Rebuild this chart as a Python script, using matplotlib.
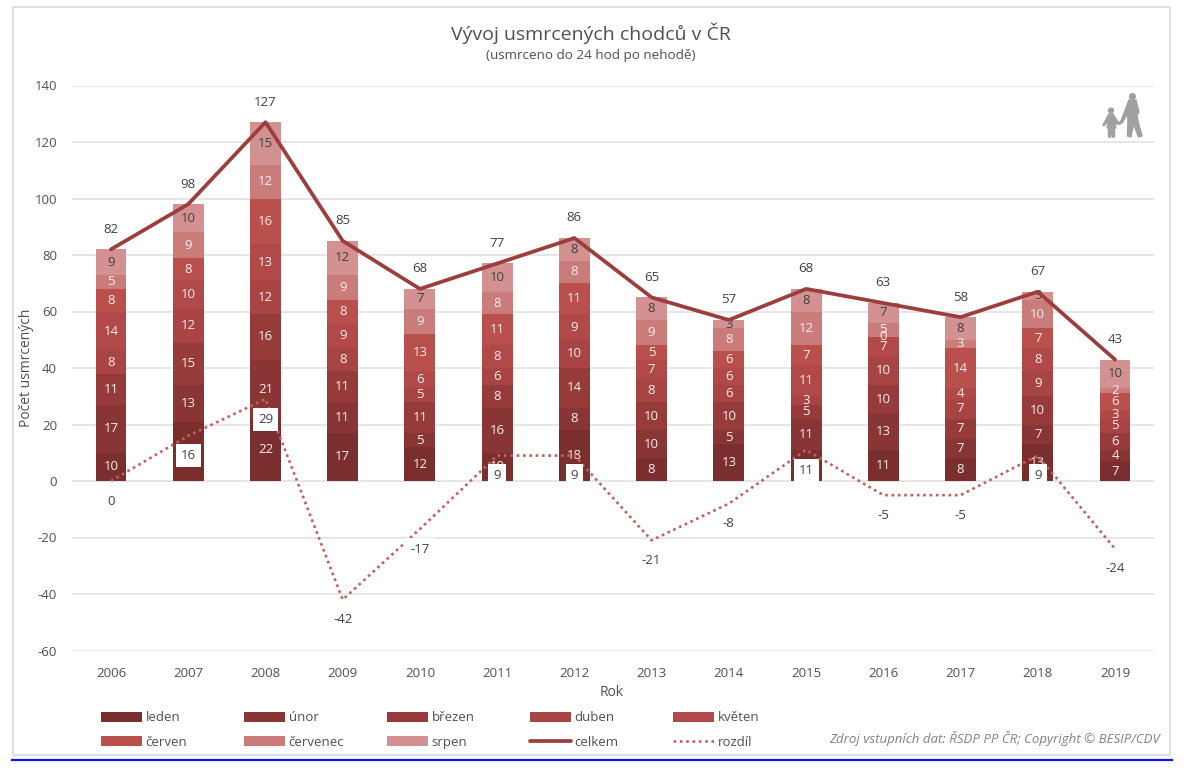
# Vyvoj usmrcenych chodcu v CR - stacked months, total and year on year change
import matplotlib
matplotlib.use('Agg')
import matplotlib.pyplot as plt
from matplotlib.patches import Rectangle, Polygon, Circle
from matplotlib.lines import Line2D

plt.rcParams['font.family'] = ['Open Sans', 'DejaVu Sans']
plt.rcParams['axes.unicode_minus'] = False

years = [2006, 2007, 2008, 2009, 2010, 2011, 2012, 2013, 2014, 2015, 2016, 2017, 2018, 2019]

leden    = [10, 21, 22, 17, 12, 10, 18, 8, 13, 11, 11, 8, 13, 7]
unor     = [17, 13, 21, 11, 5, 16, 8, 10, 5, 11, 13, 7, 7, 4]
brezen   = [11, 15, 16, 11, 11, 8, 14, 10, 10, 5, 10, 7, 10, 6]
duben    = [8, 12, 12, 8, 5, 6, 10, 8, 6, 3, 10, 7, 9, 5]
kveten   = [14, 10, 13, 9, 6, 8, 9, 7, 6, 11, 7, 4, 8, 3]
cerven   = [8, 8, 16, 8, 13, 11, 11, 5, 6, 7, 0, 14, 7, 6]
cervenec = [5, 9, 12, 9, 9, 8, 8, 9, 8, 12, 5, 3, 10, 2]
srpen    = [9, 10, 15, 12, 7, 10, 8, 8, 3, 8, 7, 8, 3, 10]

celkem = [82, 98, 127, 85, 68, 77, 86, 65, 57, 68, 63, 58, 67, 43]
rozdil = [0, 16, 29, -42, -17, 9, 9, -21, -8, 11, -5, -5, 9, -24]

months = [leden, unor, brezen, duben, kveten, cerven, cervenec, srpen]
month_names = ['leden', 'únor', 'březen', 'duben', 'květen', 'červen', 'červenec', 'srpen']
month_colors = ['#7B2E2E', '#8A3535', '#973B3A', '#A84544', '#B04948', '#B9504C', '#CA7C7B', '#D39291']
LINE_COLOR = '#9B3E3D'
DOT_COLOR = '#C45F5E'
TEXT = '#505050'

W, H = 1194, 778
fig = plt.figure(figsize=(W / 100, H / 100), dpi=100)
fig.patch.set_facecolor('white')

# everything is placed in pixels of the reference
def fx(px):
  return px / W
def fy(py):
  return 1 - py / H

# chart frame and the blue line under it, kept behind the axes
fig.add_artist(Rectangle((fx(12.5), fy(755)), 1157.5 / W, 748 / H, transform=fig.transFigure,
                         fc='white', ec='#E0E0E0', lw=1.4, zorder=-1))
fig.add_artist(Line2D([fx(12), fx(1172)], [fy(760), fy(760)], color='#0A14E6', lw=1.6, zorder=-1))

ax = fig.add_axes([fx(72.4), fy(650.5), (1153.6 - 72.4) / W, (650.5 - 85.5) / H])
ax.set_facecolor('none')

x = list(range(len(years)))
bottom = [0] * len(years)
bars = []
for vals, name, col in zip(months, month_names, month_colors):
  b = ax.bar(x, vals, 0.4, bottom=bottom, color=col, label=name, zorder=2)
  bars.append(b)
  label_col = '#404040' if name == 'srpen' else '#F6EEEE'
  ax.bar_label(b, labels=[str(v) for v in vals], label_type='center', color=label_col,
               fontsize=9.5, zorder=3)
  bottom = [p + q for p, q in zip(bottom, vals)]

line_total, = ax.plot(x, celkem, color=LINE_COLOR, lw=2.7, zorder=4, solid_capstyle='round')
line_diff, = ax.plot(x, rozdil, color=DOT_COLOR, lw=1.9, ls=(0, (1, 1.4)), zorder=4)

for i, v in zip(x, celkem):
  ax.annotate(str(v), (i, v), xytext=(0, 14.5), textcoords='offset points', ha='center',
              va='center', color='#404040', fontsize=9.5, zorder=6)
for i, v in zip(x, rozdil):
  ax.annotate(str(v), (i, v), xytext=(0, -14.5), textcoords='offset points', ha='center',
              va='center', color='#404040', fontsize=9.5, zorder=6,
              bbox=dict(boxstyle='square,pad=0.38', fc='white', ec='none'))

ax.set_xlim(-0.5, len(years) - 0.5)
ax.set_ylim(-60, 140)
ax.set_yticks(range(-60, 141, 20))
ax.set_xticks(x)
ax.set_xticklabels([str(y) for y in years])
ax.tick_params(length=0, labelsize=9.5, labelcolor=TEXT)
ax.tick_params(axis='x', pad=12)
ax.tick_params(axis='y', pad=11)
ax.grid(axis='y', color='#E4E4E4', lw=1.3, zorder=0)
ax.set_axisbelow(True)
for s in ax.spines.values():
  s.set_visible(False)

fig.text(fx(591), fy(33), 'Vývoj usmrcených chodců v ČR', ha='center', va='center',
         fontsize=14, color=TEXT)
fig.text(fx(591), fy(55), '(usmrceno do 24 hod po nehodě)', ha='center', va='center',
         fontsize=9.7, color=TEXT)
fig.text(fx(612), fy(693), 'Rok', ha='center', va='center', fontsize=10, color=TEXT)
fig.text(fx(26), fy(368), 'Počet usmrcených', ha='center', va='center', rotation=90,
         fontsize=10, color=TEXT)
fig.text(fx(1160), fy(738), 'Zdroj vstupních dat: ŘSDP PP ČR; Copyright © BESIP/CDV',
         ha='right', va='center', fontsize=9.5, style='italic', color='#808080')

# legend: one small legend per column so the columns keep an even pitch
handles = [b for b in bars] + [line_total, line_diff]
names = month_names + ['celkem', 'rozdíl']
col_x = [98, 241, 384, 527, 670]
for c, left in enumerate(col_x):
  fig.legend([handles[c], handles[c + 5]], [names[c], names[c + 5]],
             loc='upper left', bbox_to_anchor=(fx(left), fy(708.5)), frameon=False,
             fontsize=9.5, labelcolor=TEXT, handlelength=3.1, handleheight=0.78,
             handletextpad=0.3, labelspacing=0.9, borderpad=0.2, borderaxespad=0)

# pictogram top right, adult with child
icon = fig.add_axes([fx(1100), fy(140), 46 / W, 50 / H])
icon.set_xlim(0, 46)
icon.set_ylim(50, 0)
icon.axis('off')
G = '#A0A0A0'
icon.add_patch(Circle((32.5, 6.5), 2.8, color=G))
icon.add_patch(Polygon([(29, 10), (36, 10), (39, 22), (37, 25), (38, 31), (42, 46), (38.5, 47),
                        (33.5, 34), (31, 47), (27.5, 46), (28, 29), (27.5, 24), (22, 33),
                        (19, 34.5), (18.5, 33), (21, 31)], color=G))
icon.add_patch(Circle((11, 20.5), 2.4, color=G))
icon.add_patch(Polygon([(9, 24), (13, 24), (18, 32), (19, 34), (17, 34), (14.5, 31), (16, 38),
                        (14.5, 38), (14.5, 47), (12.5, 47), (11.5, 40), (10.5, 47), (8.5, 47),
                        (8.5, 38), (7, 38), (8.5, 30), (4, 36), (3, 35)], color=G))

fig.savefig('out.png', dpi=100)
